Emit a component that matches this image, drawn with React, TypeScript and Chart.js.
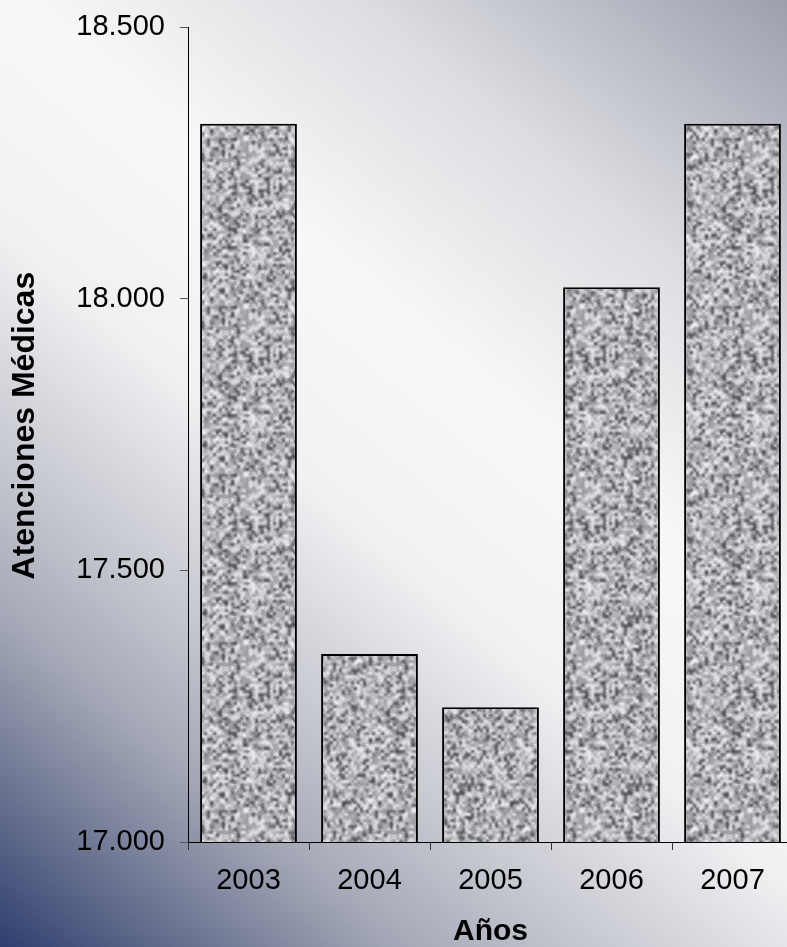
import React, { useEffect, useRef } from 'react';
import { Chart, registerables } from 'chart.js';

Chart.register(...registerables);

const categories = ['2003', '2004', '2005', '2006', '2007'];
const atenciones = [18322, 17346, 17248, 18021, 18322];
const yTickValues = [17000, 17500, 18000, 18500];

const FONT = '"Liberation Sans", Arial, sans-serif';

function mulberry32(seed: number) {
  let a = seed >>> 0;
  return function () {
    a = (a + 0x6d2b79f5) >>> 0;
    let t = a;
    t = Math.imul(t ^ (t >>> 15), t | 1);
    t ^= t + Math.imul(t ^ (t >>> 7), t | 61);
    return ((t ^ (t >>> 14)) >>> 0) / 4294967296;
  };
}

function makeGranite(): CanvasPattern | string {
  const rng = mulberry32(24680);
  const n = 56;
  const scale = 3;
  const small = document.createElement('canvas');
  small.width = n;
  small.height = n;
  const sctx = small.getContext('2d');
  if (!sctx) return '#aaa';
  const img = sctx.createImageData(n, n);
  for (let i = 0; i < n * n; i++) {
    const r = rng();
    let v: number;
    if (r < 0.2) v = 75 + rng() * 45;
    else if (r < 0.55) v = 145 + rng() * 35;
    else v = 185 + rng() * 50;
    img.data[i * 4] = v;
    img.data[i * 4 + 1] = v;
    img.data[i * 4 + 2] = Math.min(255, v + 5);
    img.data[i * 4 + 3] = 255;
  }
  sctx.putImageData(img, 0, 0);
  const tiled = document.createElement('canvas');
  tiled.width = n * 3;
  tiled.height = n * 3;
  const tctx = tiled.getContext('2d');
  if (!tctx) return '#aaa';
  for (let i = 0; i < 3; i++)
    for (let j = 0; j < 3; j++) tctx.drawImage(small, i * n, j * n);
  const S = n * scale;
  const big = document.createElement('canvas');
  big.width = S;
  big.height = S;
  const bctx = big.getContext('2d');
  if (!bctx) return '#aaa';
  bctx.imageSmoothingEnabled = true;
  bctx.imageSmoothingQuality = 'high';
  bctx.drawImage(tiled, n, n, n, n, 0, 0, S, S);
  const fine = bctx.getImageData(0, 0, S, S);
  for (let i = 0; i < fine.data.length; i += 4) {
    const d = (rng() - 0.5) * 22;
    fine.data[i] = Math.max(0, Math.min(255, fine.data[i] + d));
    fine.data[i + 1] = Math.max(0, Math.min(255, fine.data[i + 1] + d));
    fine.data[i + 2] = Math.max(0, Math.min(255, fine.data[i + 2] + d));
  }
  bctx.putImageData(fine, 0, 0);
  const p = bctx.createPattern(big, 'repeat');
  return p || '#aaa';
}

const fmt = (v: number | string) =>
  String(Math.round(Number(v))).replace(/\B(?=(\d{3})+(?!\d))/g, '.');

const backgroundPlugin = {
  id: 'bgGradient',
  beforeDraw(chart: any) {
    const ctx = chart.ctx as CanvasRenderingContext2D;
    const g = ctx.createLinearGradient(0, 947, 787, 0);
    g.addColorStop(0, '#2e3f6f');
    g.addColorStop(0.1, '#6a7290');
    g.addColorStop(0.21, '#a5a9b7');
    g.addColorStop(0.3, '#c4c6ce');
    g.addColorStop(0.45, '#f1f1f3');
    g.addColorStop(0.6, '#f8f8f8');
    g.addColorStop(0.78, '#dcdde1');
    g.addColorStop(1, '#9ca0ae');
    ctx.save();
    ctx.fillStyle = g;
    ctx.fillRect(0, 0, chart.width, chart.height);
    ctx.restore();
  },
};

export default function App() {
  const ref = useRef<HTMLCanvasElement | null>(null);

  useEffect(() => {
    if (!ref.current) return;
    const pattern = makeGranite();
    const chart = new Chart(ref.current, {
      type: 'bar',
      data: {
        labels: categories,
        datasets: [
          {
            label: 'Atenciones Médicas',
            data: atenciones,
            backgroundColor: pattern as any,
            borderColor: '#000000',
            borderWidth: 2,
            borderSkipped: false,
            barPercentage: 0.8,
            categoryPercentage: 1,
          },
        ],
      },
      options: {
        responsive: false,
        maintainAspectRatio: false,
        devicePixelRatio: 1,
        animation: false,
        layout: { padding: { top: 27, right: 7, left: 0, bottom: 0 } },
        plugins: {
          legend: { display: false },
          tooltip: { enabled: false },
        },
        scales: {
          x: {
            grid: {
              display: true,
              drawOnChartArea: false,
              offset: true,
              tickLength: 8,
              color: '#333333',
              tickColor: '#333333',
            },
            border: { display: true, color: '#000000', width: 1 },
            ticks: {
              color: '#000000',
              font: { family: FONT, size: 29 },
              padding: 14,
              maxRotation: 0,
            },
            title: {
              display: true,
              text: 'Años',
              color: '#000000',
              font: { family: FONT, size: 30, weight: 'bold', lineHeight: 1 },
              padding: { top: 0, bottom: 0 },
            },
            afterFit: (s: any) => {
              s.height = 105;
              s.paddingLeft = 0;
              s.paddingRight = 0;
            },
          },
          y: {
            min: 17000,
            max: 18500,
            afterBuildTicks: (s: any) => {
              s.ticks = yTickValues.map((v) => ({ value: v }));
            },
            grid: {
              display: true,
              drawOnChartArea: false,
              tickLength: 8,
              color: '#555555',
              tickColor: '#555555',
            },
            border: { display: true, color: '#000000', width: 1 },
            ticks: {
              color: '#000000',
              font: { family: FONT, size: 29 },
              padding: 15,
              callback: (v: any) => fmt(v),
            },
            title: {
              display: true,
              text: '  Atenciones Médicas',
              color: '#000000',
              font: { family: FONT, size: 32, weight: 'bold', lineHeight: 1 },
              padding: { top: 9, bottom: 0 },
            },
            afterFit: (s: any) => {
              s.width = 188;
              s.paddingTop = 0;
              s.paddingBottom = 0;
            },
          },
        },
      },
      plugins: [backgroundPlugin],
    });
    return () => chart.destroy();
  }, []);

  return (
    <div
      style={{
        position: 'fixed',
        left: 0,
        top: 0,
        width: 787,
        height: 947,
        overflow: 'hidden',
      }}
    >
      <canvas ref={ref} width={800} height={947} style={{ display: 'block' }} />
    </div>
  );
}
